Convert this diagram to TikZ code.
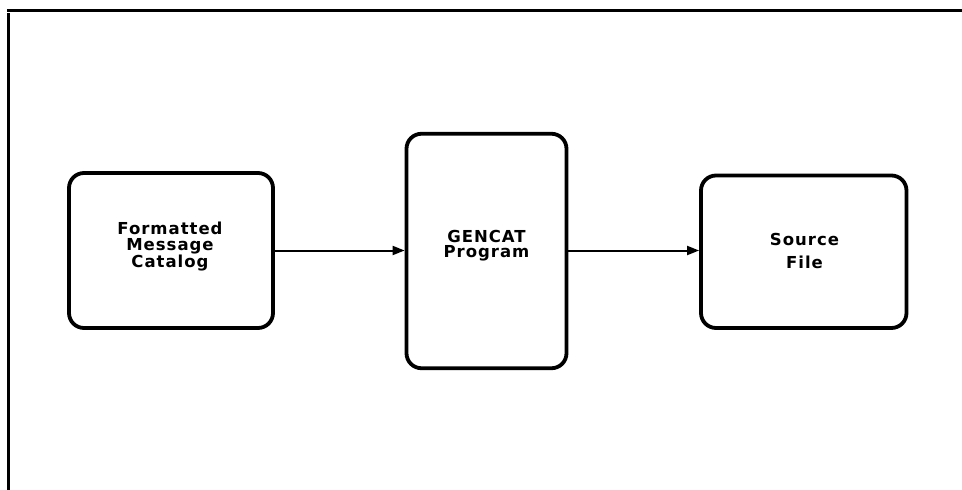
\documentclass[tikz,border=0pt]{standalone}
\usepackage{fontspec}
\usetikzlibrary{arrows.meta}
\newfontfamily\lblfont[LetterSpace=6]{DejaVu Sans}
\tikzset{
  frameline/.style={line width=3pt, line cap=butt},
  procbox/.style={draw, line width=3.8pt, rounded corners=15pt, inner sep=0pt},
  boxlabel/.style={anchor=north, inner sep=0pt, align=center},
  flow/.style={line width=2pt, -{Triangle[length=12pt, width=9pt]}},
}
\begin{document}
\begin{tikzpicture}[x=1pt, y=-1pt]
  \useasboundingbox (0,0) rectangle (962,490);

  % page frame: top rule and left rule
  \coordinate (ftl) at (7,10.5);
  \coordinate (ftr) at (962,10.5);
  \coordinate (flt) at (8.5,13);
  \coordinate (flb) at (8.5,490);
  \draw[frameline] (ftl) -- (ftr);
  \draw[frameline] (flt) -- (flb);

  % the three stages
  \node[procbox, minimum width=204pt, minimum height=155pt] (fmc) at (171,250.5) {};
  \node[procbox, minimum width=160pt, minimum height=234.5pt] (gen) at (486.5,251) {};
  \node[procbox, minimum width=205.5pt, minimum height=152.5pt] (src) at (803.75,251.75) {};

  % their labels
  \node[boxlabel, font=\lblfont\bfseries\fontsize{16.5}{16}\selectfont] (fmctext) at (170,221.5) {Formatted\\Message\\Catalog};
  \node[boxlabel, font=\lblfont\bfseries\fontsize{16.5}{14.5}\selectfont] (gentext) at (486.5,230.5) {GENCAT\\Program};
  \node[boxlabel, font=\lblfont\bfseries\fontsize{16.5}{23}\selectfont] (srctext) at (804.5,233.5) {Source\\File};

  % data flow
  \draw[flow] (fmc.east |- 0,250.5) -- (gen.west |- 0,250.5);
  \draw[flow] (gen.east |- 0,250.5) -- (src.west |- 0,250.5);
\end{tikzpicture}
\end{document}
